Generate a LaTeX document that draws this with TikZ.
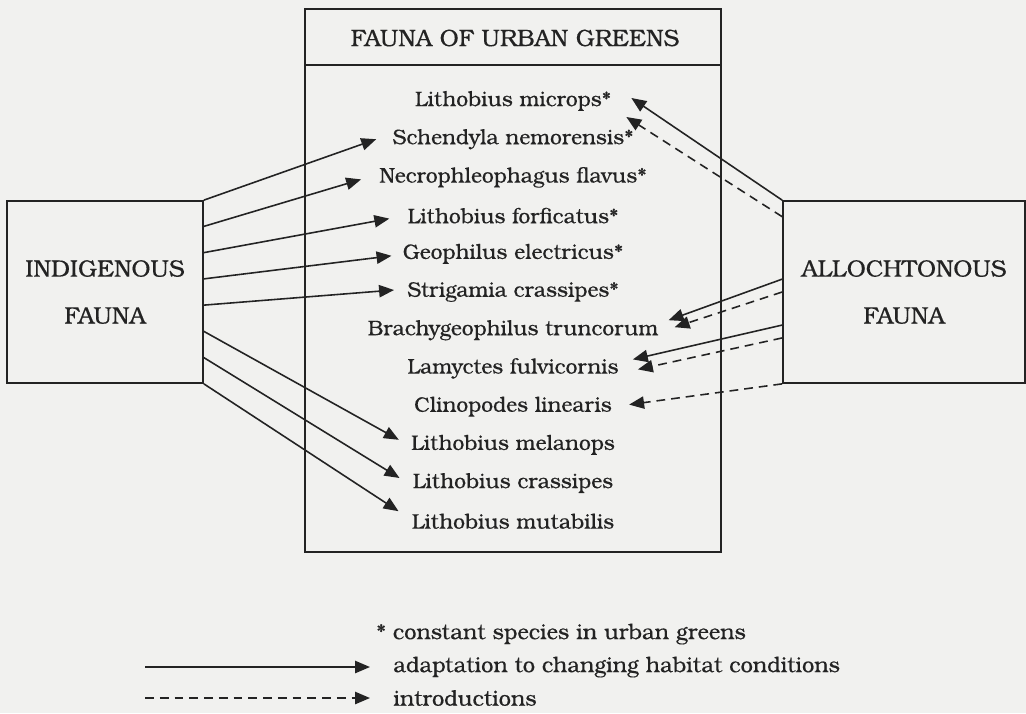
\documentclass[tikz,border=0pt]{standalone}
\usepackage{fontspec}
\setmainfont{TeX Gyre Bonum}[FakeBold=0.35]
\usetikzlibrary{arrows.meta,calc}
\definecolor{paper}{RGB}{241,241,239}
\definecolor{ink}{RGB}{35,35,35}
\tikzset{
  faunabox/.style={draw=ink,line width=1pt,inner sep=0pt},
  species/.style={inner sep=0pt,text=ink,font=\fontsize{12}{14}\selectfont},
  capsbox/.style={faunabox,align=center,text=ink,font=\fontsize{13.5}{26.7}\selectfont},
  adapt/.style={draw=ink,line width=0.9pt,-{Triangle[length=8.5pt,width=7pt]}},
  intro/.style={adapt,dash pattern=on 5pt off 3.4pt},
}

\begin{document}
\begin{tikzpicture}[x=0.02cm,y=-0.02cm]
\fill[paper] (0,0) rectangle (1026,713);
\useasboundingbox (0,0) rectangle (1026,713);
% central box with its header
\node[faunabox,minimum width=8.32cm,minimum height=10.86cm] (urban) at (513,280.5) {};
\draw[ink,line width=1pt] ($(urban.north west)+(0,57)$) -- ($(urban.north east)+(0,57)$);
\node[species,font=\fontsize{13.5}{16}\selectfont] (head) at (515,38) {FAUNA OF URBAN GREENS};
% species list
\foreach \n/\t [count=\i from 0] in {mic/Lithobius microps*,sch/Schendyla nemorensis*,
    nec/Necrophleophagus flavus*,for/Lithobius forficatus*,geo/Geophilus electricus*,
    str/Strigamia crassipes*,bra/Brachygeophilus truncorum,lam/Lamyctes fulvicornis,
    cli/Clinopodes linearis,mel/Lithobius melanops,cra/Lithobius crassipes,mut/Lithobius mutabilis}
  \node[species] (\n) at (513,101+38.2*\i) {\t};
% source boxes
\node[capsbox,minimum width=3.92cm,minimum height=3.64cm] (ind) at (105,292) {INDIGENOUS\\FAUNA};
\node[capsbox,minimum width=4.84cm,minimum height=3.64cm] (alo) at (904,292) {ALLOCHTONOUS\\FAUNA};
% indigenous fauna -> species
\foreach \s/\dx/\dy [count=\k from 0] in {sch/-16/0,nec/-18/2,for/-18/3,geo/-11/2,
    str/-13/-2,mel/-12/-5,cra/-13/-5,mut/-13/-10}
  \draw[adapt] ($(ind.north east)!\k/7!(ind.south east)$) -- ([shift={(\dx,\dy)}]\s.west);
% allochtonous fauna -> species
\draw[adapt] (alo.north west) -- ([shift={(20,-3)}]mic.east);
\draw[intro] ($(alo.north west)!0.09!(alo.south west)$) -- ([shift={(15,16)}]mic.east);
\draw[adapt] ($(alo.north west)!0.43!(alo.south west)$) -- ([shift={(10,-10)}]bra.east);
\draw[intro] ($(alo.north west)!0.5!(alo.south west)$) -- ([shift={(16,-3)}]bra.east);
\draw[adapt] ($(alo.north west)!0.68!(alo.south west)$) -- ([shift={(14,-9)}]lam.east);
\draw[intro] ($(alo.north west)!0.75!(alo.south west)$) -- ([shift={(19,1)}]lam.east);
\draw[intro] (alo.south west) -- ([shift={(17,-2)}]cli.east);
% legend
\node[species,anchor=west,font=\fontsize{12.4}{14}\selectfont] (star) at (376,634) {*\ constant species in urban greens};
\node[species,anchor=west,font=\fontsize{12.4}{14}\selectfont] (adp) at (393,667) {adaptation to changing habitat conditions};
\node[species,anchor=west,font=\fontsize{12.4}{14}\selectfont] (intr) at (393,698) {introductions};
\coordinate (l1) at (145,667);
\coordinate (l2) at (145,698);
\draw[adapt] (l1) -- ([shift={(-23,0)}]adp.west);
\draw[intro] (l2) -- ([shift={(-23,0)}]intr.west);
\end{tikzpicture}
\end{document}
